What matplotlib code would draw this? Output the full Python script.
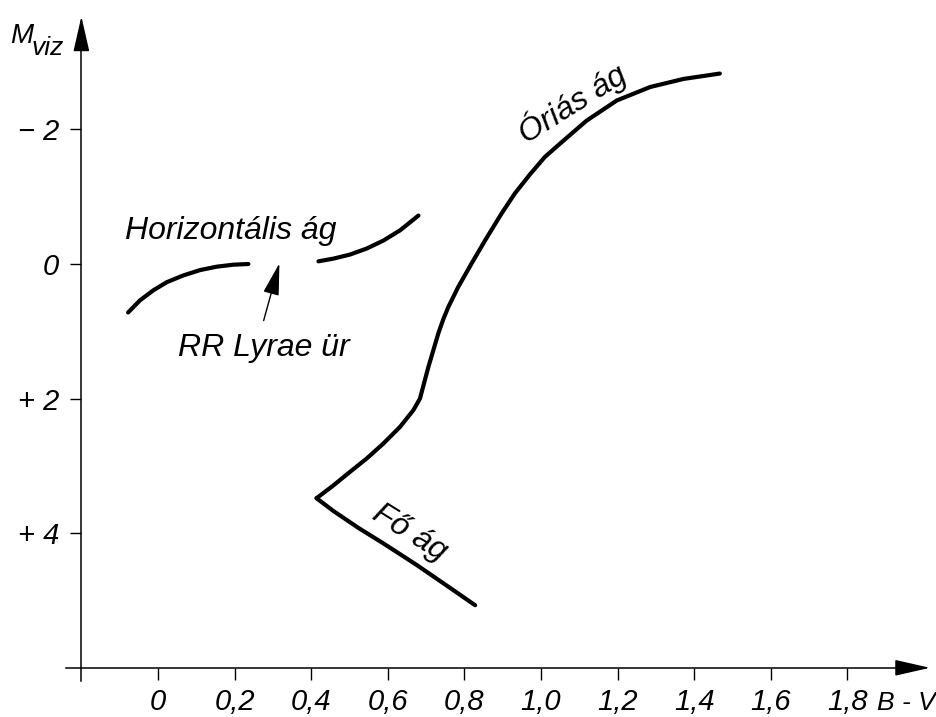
import numpy as np
import matplotlib
matplotlib.use('Agg')
import matplotlib.pyplot as plt

plt.rcParams['font.family'] = ['Liberation Sans', 'DejaVu Sans']
plt.rcParams['font.style'] = 'italic'

# horizontal branch, left of the RR Lyrae gap
hb_left_bv = [-0.078, -0.047, -0.012, 0.023, 0.066, 0.110, 0.153, 0.197, 0.236]
hb_left_m = [0.72, 0.54, 0.39, 0.27, 0.17, 0.09, 0.04, 0.01, 0.00]
# horizontal branch, right of the gap
hb_right_bv = [0.419, 0.458, 0.501, 0.545, 0.589, 0.632, 0.680]
hb_right_m = [-0.04, -0.08, -0.14, -0.23, -0.35, -0.50, -0.72]
# turnoff -> subgiant -> giant branch
gb_bv = [0.414, 0.458, 0.501, 0.545, 0.588, 0.632, 0.667, 0.684,
         0.706, 0.732, 0.745, 0.758, 0.784, 0.819, 0.854, 0.897, 0.932,
         0.971, 1.010, 1.050, 1.119, 1.198, 1.285, 1.372, 1.467]
gb_m = [3.48, 3.29, 3.09, 2.89, 2.67, 2.42, 2.17, 2.00,
        1.53, 1.03, 0.82, 0.64, 0.34, -0.01, -0.35, -0.75, -1.05,
        -1.33, -1.59, -1.79, -2.13, -2.43, -2.63, -2.75, -2.83]
# main sequence
ms_bv = [0.414, 0.458, 0.523, 0.588, 0.675, 0.762, 0.828]
ms_m = [3.48, 3.67, 3.92, 4.15, 4.47, 4.81, 5.07]

x_ticks = [0, 0.2, 0.4, 0.6, 0.8, 1.0, 1.2, 1.4, 1.6, 1.8]
x_labels = ['0', '0,2', '0,4', '0,6', '0,8', '1,0', '1,2', '1,4', '1,6', '1,8']
y_ticks = [-2, 0, 2, 4]
y_labels = ['\u2212 2', '0', '+ 2', '+ 4']

fig = plt.figure(figsize=(9.37, 7.17), dpi=100)
ax = fig.add_axes([0, 0, 1, 1])
ax.set_xlim(-0.4125, 2.034)
ax.set_ylim(6.731, -3.923)

# axes drawn as crossing spines
for s in ['top', 'right']:
    ax.spines[s].set_visible(False)
ax.spines['left'].set_position(('data', -0.2))
ax.spines['bottom'].set_position(('data', 6))
ax.spines['left'].set_bounds(6.2, -3.6)
ax.spines['bottom'].set_bounds(-0.24, 1.98)
for s in ['left', 'bottom']:
    ax.spines[s].set_linewidth(1.1)

ax.set_xticks(x_ticks, x_labels)
ax.set_yticks(y_ticks, y_labels)
ax.tick_params(axis='x', direction='out', length=8.6, width=1.0, pad=6, labelsize=21)
ax.tick_params(axis='y', direction='out', length=8, width=1.0, pad=8, labelsize=21)

# arrow heads on the axes
ax.annotate('', xy=(2.023, 6), xytext=(1.95, 6),
            arrowprops=dict(arrowstyle='-|>,head_length=1.1,head_width=0.25',
                            color='black', lw=1.1, mutation_scale=20))
ax.annotate('', xy=(-0.2, -3.72), xytext=(-0.2, -3.3),
            arrowprops=dict(arrowstyle='-|>,head_length=1.1,head_width=0.25',
                            color='black', lw=1.1, mutation_scale=20))

lw = 3.0
for bv, m in [(hb_left_bv, hb_left_m), (hb_right_bv, hb_right_m),
              (gb_bv, gb_m), (ms_bv, ms_m)]:
    ax.plot(bv, m, color='black', lw=lw, solid_capstyle='round', solid_joinstyle='round')

# RR Lyrae gap arrow
ax.annotate('', xy=(0.319, -0.05), xytext=(0.274, 0.88),
            arrowprops=dict(arrowstyle='-|>,head_length=1.0,head_width=0.25',
                            color='black', lw=1.0, mutation_scale=20))

fs = 23
ax.text(-0.086, -0.37, 'Horizontális ág', fontsize=fs, ha='left', va='baseline')
ax.text(0.052, 1.36, 'RR Lyrae ür', fontsize=fs, ha='left', va='baseline')
ax.text(1.081, -2.39, 'Óriás ág', fontsize=fs, ha='center', va='center',
        rotation=32, rotation_mode='anchor')
ax.text(0.658, 4.00, 'Fő ág', fontsize=fs, ha='center', va='center',
        rotation=-32, rotation_mode='anchor')

ax.text(-0.386, -3.28, 'M', fontsize=20, ha='left', va='baseline')
ax.text(-0.329, -3.10, 'viz', fontsize=19, ha='left', va='baseline')
ax.text(1.878, 6.63, 'B - V', fontsize=19, ha='left', va='baseline')

fig.savefig('out.png', dpi=100)
